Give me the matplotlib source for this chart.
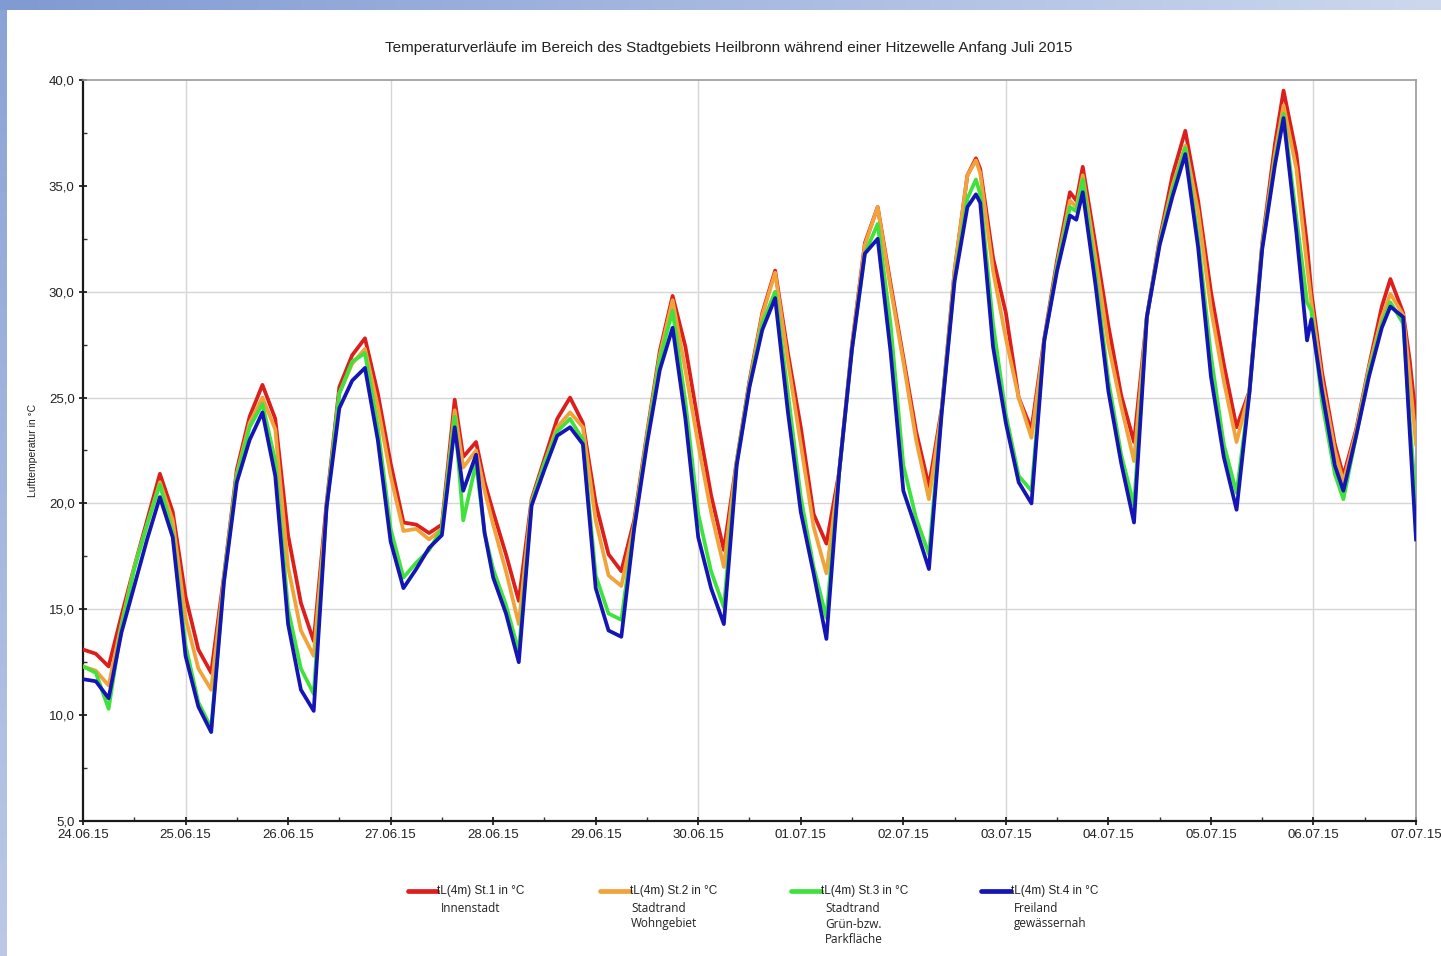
import numpy as np
import pandas as pd
import matplotlib
matplotlib.use('Agg')
import matplotlib.pyplot as plt
import matplotlib.dates as mdates
from matplotlib.lines import Line2D
from matplotlib.ticker import MultipleLocator, FuncFormatter

plt.rcParams['font.family'] = ['Liberation Sans', 'DejaVu Sans']

# ── Data: hours since 24.06.2015 00:00, temperatures in °C ──
hours = [0, 3, 6, 9, 12, 15, 18, 21, 24, 27, 30, 33, 36, 39, 42, 45, 48, 51, 54,
         57, 60, 63, 66, 69, 72, 75, 78, 81, 84, 87, 89, 92, 94, 96, 99, 102,
         105, 108, 111, 114, 117, 120, 123, 126, 129, 132, 135, 138, 141, 144,
         147, 150, 153, 156, 159, 162, 165, 168, 171, 174, 177, 180, 183, 186,
         189, 192, 195, 198, 201, 204, 207, 209, 210, 213, 216, 219, 222, 225,
         228, 231, 232.5, 234, 237, 240, 243, 246, 249, 252, 255, 258, 261, 264,
         267, 270, 273, 276, 279, 281, 284, 286.5, 287.5, 290, 293, 295, 298,
         301, 304, 306, 309, 310.5, 312]

st1 = [13.1, 12.9, 12.3, 14.7, 17.0, 19.2, 21.4, 19.6, 15.6, 13.1, 12.0, 16.6,
       21.6, 24.1, 25.6, 24.0, 18.5, 15.3, 13.5, 20.0, 25.5, 27.0, 27.8, 25.2,
       21.9, 19.1, 19.0, 18.6, 19.0, 24.9, 22.2, 22.9, 21.0, 19.6, 17.6, 15.4,
       20.2, 22.1, 24.0, 25.0, 23.8, 20.0, 17.6, 16.8, 19.2, 23.3, 27.2, 29.8,
       27.4, 23.8, 20.4, 17.8, 22.0, 25.8, 29.0, 31.0, 27.1, 23.6, 19.5, 18.1,
       21.5, 27.5, 32.3, 34.0, 30.4, 26.9, 23.4, 20.8, 24.5, 31.0, 35.5, 36.3,
       35.8, 31.6, 29.0, 25.0, 23.5, 27.8, 31.5, 34.7, 34.3, 35.9, 32.2, 28.4,
       25.1, 22.9, 28.8, 32.5, 35.5, 37.6, 34.3, 30.0, 26.6, 23.6, 25.3, 32.3,
       37.0, 39.5, 36.5, 32.2, 30.0, 26.2, 22.8, 21.3, 23.5, 26.5, 29.3, 30.6,
       29.0, 26.8, 24.0]

st2 = [12.3, 12.1, 11.4, 14.3, 17.0, 19.0, 21.0, 19.2, 14.6, 12.2, 11.2, 16.5,
       21.4, 23.8, 25.0, 23.5, 17.0, 14.0, 12.8, 19.8, 25.2, 26.6, 27.3, 24.6,
       21.3, 18.7, 18.8, 18.3, 18.8, 24.4, 21.7, 22.5, 20.6, 19.0, 16.8, 14.3,
       20.1, 21.9, 23.6, 24.3, 23.6, 19.2, 16.6, 16.1, 19.0, 23.2, 27.0, 29.6,
       26.3, 22.8, 19.6, 17.0, 22.0, 25.7, 28.9, 30.9, 26.7, 22.8, 18.9, 16.7,
       21.5, 27.5, 32.2, 34.0, 30.2, 26.7, 23.0, 20.2, 24.4, 31.0, 35.5, 36.2,
       35.6, 31.0, 27.8, 25.0, 23.1, 27.7, 31.3, 34.3, 34.0, 35.5, 31.6, 27.5,
       24.6, 22.0, 28.8, 32.4, 35.0, 36.9, 33.8, 29.2, 25.8, 22.9, 25.3, 32.2,
       36.5, 38.8, 35.8, 31.2, 29.5, 25.8, 22.5, 21.0, 23.4, 26.4, 28.8, 29.9,
       28.9, 26.0, 22.8]

st3 = [12.3, 12.0, 10.3, 14.2, 16.9, 19.0, 20.9, 18.6, 13.3, 10.6, 9.4, 16.4,
       21.3, 23.6, 24.7, 22.0, 15.0, 12.2, 11.0, 19.8, 25.2, 26.7, 27.1, 23.6,
       18.8, 16.5, 17.2, 17.8, 18.8, 24.1, 19.2, 21.9, 18.6, 16.9, 15.2, 13.0,
       20.0, 21.9, 23.4, 24.0, 23.0, 16.6, 14.8, 14.5, 18.9, 23.0, 26.8, 29.1,
       24.8, 19.5, 16.8, 15.1, 21.9, 25.6, 28.5, 30.0, 25.2, 20.3, 17.0, 14.6,
       21.5, 27.3, 31.8, 33.2, 28.5, 21.8, 19.3, 17.6, 24.4, 30.6, 34.4, 35.3,
       34.6, 28.5, 24.2, 21.3, 20.6, 27.7, 31.2, 34.0, 33.8, 35.3, 30.8, 25.8,
       22.3, 19.9, 28.8, 32.3, 34.8, 36.8, 32.5, 27.0, 22.8, 20.5, 25.2, 32.1,
       36.2, 38.4, 33.5, 29.5, 29.1, 24.8, 21.4, 20.2, 23.2, 26.2, 28.5, 29.5,
       28.5, 24.0, 20.0]

st4 = [11.7, 11.6, 10.8, 13.9, 16.1, 18.3, 20.3, 18.4, 12.8, 10.4, 9.2, 16.3,
       21.0, 23.0, 24.3, 21.3, 14.3, 11.2, 10.2, 19.8, 24.5, 25.8, 26.4, 23.0,
       18.2, 16.0, 16.9, 17.9, 18.5, 23.6, 20.6, 22.3, 18.6, 16.5, 14.8, 12.5,
       19.9, 21.6, 23.2, 23.6, 22.8, 16.0, 14.0, 13.7, 18.8, 22.8, 26.3, 28.3,
       24.0, 18.4, 16.0, 14.3, 21.8, 25.5, 28.2, 29.7, 24.3, 19.6, 16.7, 13.6,
       21.5, 27.3, 31.8, 32.5, 27.2, 20.6, 18.8, 16.9, 24.3, 30.5, 34.0, 34.6,
       34.2, 27.4, 23.8, 21.0, 20.0, 27.7, 31.0, 33.6, 33.4, 34.7, 30.3, 25.3,
       21.9, 19.1, 28.8, 32.2, 34.5, 36.5, 32.1, 26.0, 22.2, 19.7, 25.2, 32.0,
       36.0, 38.2, 32.8, 27.7, 28.7, 25.3, 21.8, 20.6, 23.2, 26.0, 28.3, 29.3,
       28.8, 23.5, 18.3]

series = [st1, st2, st3, st4]
label_top = ['tL(4m) St.1 in \u00b0C', 'tL(4m) St.2 in \u00b0C',
             'tL(4m) St.3 in \u00b0C', 'tL(4m) St.4 in \u00b0C']
label_sub = ['Innenstadt', 'Stadtrand\nWohngebiet',
             'Stadtrand\nGr\u00fcn-bzw.\nParkfl\u00e4che', 'Freiland\ngew\u00e4ssernah']
colors = ['#dc1f1d', '#f2a23a', '#3fe23c', '#1515b5']

grid_days = ['2015-06-25', '2015-06-27', '2015-06-30', '2015-07-03', '2015-07-06']
grid_temps = [15, 20, 25, 30]

t0 = pd.Timestamp('2015-06-24')
times = (t0 + pd.to_timedelta(hours, unit='h')).to_pydatetime()

W, H = 1441, 956
fig = plt.figure(figsize=(W / 100, H / 100), dpi=100)

# slide frame (blue bands top and left)
bg = fig.add_axes([0, 0, 1, 1], zorder=-5)
img = np.ones((H, W, 3))
top_l = np.array([128, 154, 210]) / 255
top_r = np.array([205, 216, 238]) / 255
g = np.linspace(0, 1, W)[:, None]
img[:10, :, :] = (top_l * (1 - g) + top_r * g)[None, :, :]
left_t = np.array([138, 163, 214]) / 255
left_b = np.array([188, 200, 230]) / 255
v = np.linspace(0, 1, H)[:, None]
img[10:, :7, :] = (left_t * (1 - v) + left_b * v)[10:, None, :]
bg.imshow(img, aspect='auto', interpolation='nearest')
bg.axis('off')

ax = fig.add_axes([83 / W, 1 - 821 / H, (1416 - 83) / W, (821 - 80) / H])

for d in grid_days:
    ax.axvline(pd.Timestamp(d), color='#d6d6d6', lw=1.0, zorder=0)
for t in grid_temps:
    ax.axhline(t, color='#d6d6d6', lw=1.0, zorder=0)

for s, c in zip(series, colors):
    ax.plot(times, s, color=c, lw=2.7, solid_joinstyle='round', zorder=3)

ax.set_xlim(t0, t0 + pd.Timedelta(days=13))
ax.set_ylim(5, 40)
ax.xaxis.set_major_locator(mdates.DayLocator())
ax.xaxis.set_major_formatter(mdates.DateFormatter('%d.%m.%y'))
ax.xaxis.set_minor_locator(mdates.HourLocator(byhour=[12]))
ax.yaxis.set_major_locator(MultipleLocator(5))
ax.yaxis.set_minor_locator(MultipleLocator(2.5))
ax.yaxis.set_major_formatter(FuncFormatter(lambda y, p: f'{y:.1f}'.replace('.', ',')))

ax.tick_params(which='major', direction='inout', length=6, width=1.3,
               labelsize=9.5, colors='#222222', pad=3)
ax.tick_params(which='minor', direction='in', length=3, width=1.0, colors='#333333')
for side in ['left', 'bottom']:
    ax.spines[side].set_color('#1a1a1a')
    ax.spines[side].set_linewidth(1.6)
for side in ['top', 'right']:
    ax.spines[side].set_color('#9a9a9a')
    ax.spines[side].set_linewidth(1.2)

ax.set_ylabel('Lufttemperatur in \u00b0C', fontsize=7.5, labelpad=8, color='#222222')

fig.text(729 / W, 1 - 48 / H,
         'Temperaturverl\u00e4ufe im Bereich des Stadtgebiets Heilbronn w\u00e4hrend '
         'einer Hitzewelle Anfang Juli 2015',
         ha='center', va='center', fontsize=11, color='#222222')

# legend below the plot
leg_line_x = [(408, 437), (600, 630), (791, 821), (981, 1011)]
leg_sub_x = [441, 631, 825, 1014]
for i in range(4):
    x0, x1 = leg_line_x[i]
    fig.add_artist(Line2D([x0 / W, x1 / W], [1 - 891 / H] * 2, color=colors[i],
                          lw=3.4, solid_capstyle='round'))
    fig.text(x1 / W, 1 - 891 / H, label_top[i], ha='left', va='center',
             fontsize=8.5, color='#222222')
    fig.text(leg_sub_x[i] / W, 1 - 902 / H, label_sub[i], ha='left', va='top',
             fontsize=8.5, family='Open Sans', linespacing=1.25, color='#222222')

fig.savefig('out.png', dpi=100)
